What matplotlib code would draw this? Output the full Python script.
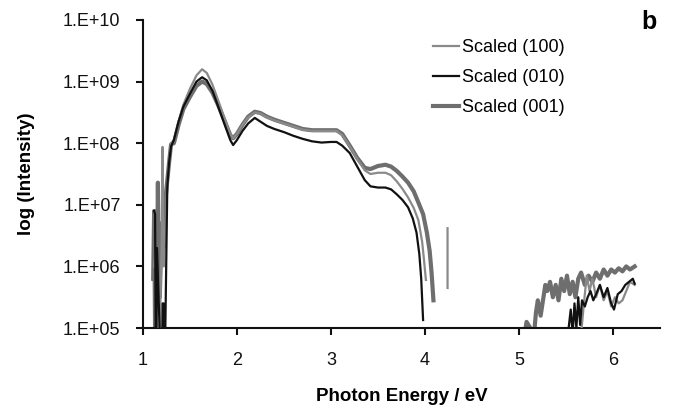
import numpy as np
import matplotlib
matplotlib.use("Agg")
import matplotlib.pyplot as plt
from matplotlib.ticker import FixedLocator, FuncFormatter, NullLocator

plt.rcParams["font.family"] = ["Liberation Sans", "DejaVu Sans"]

# Values are log10(intensity); NaN splits a segment
nan = np.nan

e_100 = [1.12, 1.14, 1.17, 1.19, 1.20, 1.21, 1.22, 1.24, 1.26, 1.28, 1.30,
         1.33, 1.38, 1.43, 1.50, 1.57, 1.63, 1.68, 1.74, 1.80, 1.87, 1.93, 1.96,
         2.00, 2.06, 2.12, 2.19, 2.25, 2.32, 2.40, 2.50, 2.60, 2.70, 2.80, 2.90,
         3.00, 3.06, 3.12, 3.20, 3.28, 3.36, 3.42, 3.50, 3.58, 3.64, 3.70, 3.76,
         3.82, 3.88, 3.93, 3.97, 3.99, 4.01,
         4.10, 4.24, 4.24, 4.30,
         5.66, 5.69, 5.72, 5.75, 5.78, 5.82, 5.86, 5.90, 5.94, 5.98, 6.02, 6.06,
         6.10, 6.14, 6.18, 6.23]
log_100 = [6.0, 6.3, 4.0, 5.7, 6.3, 7.94, 6.0, 6.6, 7.3, 7.7, 8.0,
           8.05, 8.35, 8.62, 8.88, 9.10, 9.20, 9.14, 8.95, 8.70, 8.40, 8.15, 8.08,
           8.15, 8.30, 8.42, 8.50, 8.48, 8.42, 8.37, 8.32, 8.27, 8.22, 8.20, 8.20,
           8.20, 8.20, 8.13, 7.95, 7.74, 7.56, 7.50, 7.52, 7.52, 7.48, 7.38, 7.26,
           7.12, 6.95, 6.75, 6.40, 6.10, 5.78,
           nan, 6.62, 5.65, nan,
           4.9, 5.4, 5.85, 5.6, 5.8, 5.5, 5.7, 5.45, 5.6, 5.35, 5.5, 5.4,
           5.45, 5.6, 5.75, 5.7]

e_010 = [1.12, 1.13, 1.14, 1.15, 1.20, 1.21, 1.22, 1.23, 1.26, 1.28, 1.30,
         1.33, 1.38, 1.43, 1.50, 1.57, 1.63, 1.68, 1.74, 1.80, 1.87, 1.93, 1.96,
         2.00, 2.06, 2.12, 2.19, 2.25, 2.32, 2.40, 2.50, 2.60, 2.70, 2.80, 2.90,
         3.00, 3.06, 3.12, 3.20, 3.28, 3.36, 3.42, 3.50, 3.58, 3.64, 3.70, 3.76,
         3.82, 3.87, 3.91, 3.94, 3.96, 3.98,
         4.50,
         5.52, 5.55, 5.57, 5.59, 5.61, 5.63, 5.65, 5.67, 5.70, 5.73, 5.76, 5.79,
         5.82, 5.86, 5.90, 5.94, 5.98, 6.01, 6.05, 6.09, 6.13, 6.17, 6.21, 6.23]
log_010 = [6.9, 6.85, 4.0, 6.3, 4.0, 5.4, 5.4, 4.0, 7.3, 7.7, 7.95,
           8.05, 8.35, 8.59, 8.80, 9.00, 9.07, 9.02, 8.85, 8.60, 8.30, 8.05, 7.97,
           8.05, 8.20, 8.32, 8.41, 8.35, 8.28, 8.23, 8.18, 8.12, 8.07, 8.03, 8.01,
           8.02, 8.02, 7.96, 7.84, 7.62, 7.40, 7.30, 7.28, 7.28, 7.25, 7.17, 7.08,
           6.96, 6.78, 6.55, 6.20, 5.80, 5.13,
           nan,
           4.9, 5.3, 4.9, 5.4, 5.0, 5.5, 5.05, 5.45, 5.35, 5.5, 5.6, 5.45,
           5.55, 5.7, 5.5, 5.65, 5.4, 5.3, 5.55, 5.6, 5.7, 5.75, 5.8, 5.72]

e_001 = [1.11, 1.12, 1.13, 1.14, 1.15, 1.16, 1.17, 1.18, 1.19, 1.20, 1.22,
         1.24, 1.26, 1.28, 1.30,
         1.33, 1.38, 1.43, 1.50, 1.57, 1.63, 1.68, 1.74, 1.80, 1.87, 1.93, 1.96,
         2.00, 2.06, 2.12, 2.19, 2.25, 2.32, 2.40, 2.50, 2.60, 2.70, 2.80, 2.90,
         3.00, 3.06, 3.12, 3.20, 3.28, 3.36, 3.42, 3.50, 3.58, 3.64, 3.70, 3.76,
         3.82, 3.88, 3.94, 3.98, 4.02, 4.05, 4.07, 4.09,
         4.50,
         5.06, 5.08, 5.12, 5.16, 5.18, 5.20, 5.23, 5.26, 5.28, 5.30, 5.33, 5.36,
         5.39, 5.42, 5.45, 5.48, 5.51, 5.54, 5.57, 5.60, 5.63, 5.66, 5.70, 5.74,
         5.78, 5.82, 5.86, 5.90, 5.94, 5.98, 6.02, 6.06, 6.10, 6.14, 6.18, 6.23]
log_001 = [5.8, 6.9, 5.0, 6.5, 5.7, 7.36, 6.0, 5.5, 6.1, 6.7, 6.3,
           7.1, 7.4, 7.7, 7.98,
           8.0, 8.3, 8.55, 8.75, 8.93, 9.00, 8.96, 8.82, 8.62, 8.36, 8.13, 8.08,
           8.15, 8.30, 8.43, 8.51, 8.49, 8.43, 8.38, 8.33, 8.28, 8.23, 8.21, 8.21,
           8.21, 8.21, 8.15, 7.96, 7.76, 7.60, 7.58, 7.63, 7.65, 7.62, 7.55, 7.46,
           7.36, 7.22, 7.00, 6.85, 6.55, 6.25, 5.90, 5.45,
           nan,
           4.9, 5.1, 5.0, 4.9, 5.25, 5.45, 5.2, 5.5, 5.7, 5.6, 5.75, 5.5,
           5.7, 5.45, 5.8, 5.6, 5.85, 5.55, 5.75, 5.5, 5.8, 5.9, 5.7, 5.85,
           5.75, 5.9, 5.8, 5.95, 5.85, 5.95, 5.9, 5.97, 5.92, 6.0, 5.95, 6.0]

y_ticks = [1e5, 1e6, 1e7, 1e8, 1e9, 1e10]
x_ticks = [1, 2, 3, 4, 5, 6]

fig = plt.figure(figsize=(6.77, 4.07), dpi=100)
ax = fig.add_axes([0.211, 0.194, 0.764, 0.757])

ax.plot(e_001, np.power(10.0, log_001), color="#6e6e6e", linewidth=3.0,
        label="Scaled (001)", zorder=2)
ax.plot(e_100, np.power(10.0, log_100), color="#8a8a8a", linewidth=1.6,
        label="Scaled (100)", zorder=3)
ax.plot(e_010, np.power(10.0, log_010), color="#111111", linewidth=1.6,
        label="Scaled (010)", zorder=4)

ax.set_yscale("log")
ax.set_xlim(1, 6.5)
ax.set_ylim(1e5, 1e10)
ax.yaxis.set_major_locator(FixedLocator(y_ticks))
ax.yaxis.set_minor_locator(NullLocator())
ax.yaxis.set_major_formatter(FuncFormatter(lambda v, p: "1.E+%02d" % round(np.log10(v))))
ax.set_xticks(x_ticks)

for s in ["top", "right"]:
    ax.spines[s].set_visible(False)
for s in ["left", "bottom"]:
    ax.spines[s].set_linewidth(1.5)
    ax.spines[s].set_color("#111111")
ax.tick_params(direction="out", length=5, width=1.5, labelsize=13,
               colors="#111111", pad=11)
ax.tick_params(axis="x", pad=12)

ax.set_xlabel("Photon Energy / eV", fontsize=13.5, fontweight="bold", labelpad=14)
ax.set_ylabel("log (Intensity)", fontsize=13.5, fontweight="bold", labelpad=20)

handles, labels = ax.get_legend_handles_labels()
order = [1, 2, 0]
ax.legend([handles[i] for i in order], [labels[i] for i in order],
          loc="upper left", bbox_to_anchor=(0.53, 0.99), frameon=False,
          fontsize=13, handlelength=1.45, handletextpad=0.15, labelspacing=0.72)

fig.text(0.97, 0.975, "b", fontsize=18, fontweight="bold", ha="right", va="top")

fig.savefig("out.png", dpi=100)
